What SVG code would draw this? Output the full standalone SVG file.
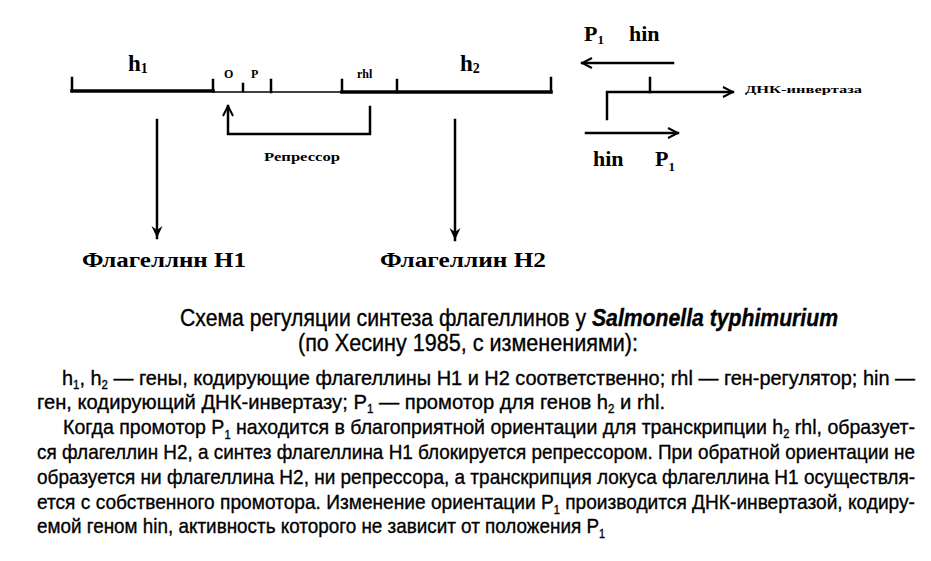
<svg xmlns="http://www.w3.org/2000/svg" width="931" height="561" viewBox="0 0 931 561">
<defs>
<style>
.ln{stroke:#000;fill:none;stroke-linecap:square}
.thk{stroke-width:3.5}
.med{stroke-width:2.5}
.thn{stroke-width:1.6}
.sf{font-family:"Liberation Serif","Times New Roman",serif;font-weight:bold;fill:#000}
.ss{font-family:"Liberation Sans Narrow","Liberation Sans",Arial,sans-serif;fill:#000;stroke:#000;stroke-width:0.35}
</style>
<marker id="open" viewBox="0 0 12 12" refX="11" refY="6" markerWidth="12" markerHeight="12" markerUnits="userSpaceOnUse" orient="auto">
<path d="M1,1 L11,6 L1,11" fill="none" stroke="#000" stroke-width="2"/>
</marker>
<marker id="fillv" viewBox="0 0 14 12" refX="13" refY="6" markerWidth="14" markerHeight="12" markerUnits="userSpaceOnUse" orient="auto">
<path d="M1,0.5 L13,6 L1,11.5 L5,6 Z" fill="#000"/>
</marker>
</defs>
<rect width="931" height="561" fill="#fff"/>

<g id="chromosome">
<path class="ln thk" d="M72,91 H213"/>
<path class="ln thn" d="M213,92 H342"/>
<path class="ln thk" d="M342,92 H551"/>
<path class="ln med" d="M72,78 V91 M213,80 V91 M243,84 V91 M271,80 V92 M342,80 V92 M397,80 V92 M551,78 V92"/>
</g>

<g id="labels-top">
<text class="sf" x="128" y="71" font-size="23">h<tspan font-size="14" dy="2">1</tspan></text>
<text class="sf" x="224" y="78" font-size="12">O</text>
<text class="sf" x="251" y="78" font-size="12">P</text>
<text class="sf" x="357" y="78" font-size="12">rhl</text>
<text class="sf" x="460" y="71" font-size="23">h<tspan font-size="14" dy="2">2</tspan></text>
</g>

<g id="inverter">
<text class="sf" x="584" y="41" font-size="22">P<tspan font-size="13" dy="3">1</tspan><tspan dy="-3" x="629">hin</tspan></text>
<text class="sf" x="745" y="93" font-size="11" textLength="117" lengthAdjust="spacingAndGlyphs">ДНК-инвертаза</text>
<text class="sf" x="593" y="166" font-size="22">hin<tspan x="655">P</tspan><tspan font-size="13" dy="5">1</tspan></text>
</g>

<g id="node-flagellin-h1">
<text class="sf" x="82" y="267" font-size="22" textLength="164" lengthAdjust="spacingAndGlyphs">Флагеллнн Н1</text>
</g>
<g id="node-flagellin-h2">
<text class="sf" x="380" y="267" font-size="22" textLength="166" lengthAdjust="spacingAndGlyphs">Флагеллин Н2</text>
</g>
<g id="repressor-label">
<text class="sf" x="264" y="161" font-size="13" textLength="76" lengthAdjust="spacingAndGlyphs">Репрессор</text>
</g>

<g id="connectors">
<path class="ln med" d="M157,120 V238" marker-end="url(#fillv)"/>
<path class="ln med" d="M455,120 V240" marker-end="url(#fillv)"/>
<path class="ln med" d="M370,107 V134 H228 V106" marker-end="url(#open)"/>
<path class="ln med" d="M673,63 H582" marker-end="url(#open)"/>
<path class="ln med" d="M650,78 V92"/>
<path class="ln med" d="M607,119 V92 H733" marker-end="url(#open)"/>
<path class="ln med" d="M586,133 H678" marker-end="url(#open)"/>
</g>

<g id="caption">
<text class="ss" x="180" y="326" font-size="23" textLength="658" lengthAdjust="spacingAndGlyphs">Схема регуляции синтеза флагеллинов у <tspan font-weight="bold" font-style="italic">Salmonella typhimurium</tspan></text>
<text class="ss" x="298" y="351" font-size="23" textLength="340" lengthAdjust="spacingAndGlyphs">(по Хесину 1985, с изменениями):</text>
</g>

<g id="body" class="ss" font-size="21">
<text x="62" y="385" textLength="853" lengthAdjust="spacingAndGlyphs">h<tspan font-size="12" dy="4">1</tspan><tspan dy="-4">, h</tspan><tspan font-size="12" dy="4">2</tspan><tspan dy="-4"> — гены, кодирующие флагеллины Н1 и Н2 соответственно; rhl — ген-регулятор; hin —</tspan></text>
<text x="37" y="409" textLength="628" lengthAdjust="spacingAndGlyphs">ген, кодирующий ДНК-инвертазу; P<tspan font-size="12" dy="4">1</tspan><tspan dy="-4"> — промотор для генов h</tspan><tspan font-size="12" dy="4">2</tspan><tspan dy="-4"> и rhl.</tspan></text>
<text x="63" y="434" textLength="852" lengthAdjust="spacingAndGlyphs">Когда промотор P<tspan font-size="12" dy="5">1</tspan><tspan dy="-5"> находится в благоприятной ориентации для транскрипции h</tspan><tspan font-size="12" dy="4">2</tspan><tspan dy="-4"> rhl, образует-</tspan></text>
<text x="37" y="459" textLength="878" lengthAdjust="spacingAndGlyphs">ся флагеллин Н2, а синтез флагеллина Н1 блокируется репрессором. При обратной ориентации не</text>
<text x="37" y="484" textLength="878" lengthAdjust="spacingAndGlyphs">образуется ни флагеллина Н2, ни репрессора, а транскрипция локуса флагеллина Н1 осуществля-</text>
<text x="37" y="509" textLength="878" lengthAdjust="spacingAndGlyphs">ется с собственного промотора. Изменение ориентации P<tspan font-size="12" dy="5">1</tspan><tspan dy="-5"> производится ДНК-инвертазой, кодиру-</tspan></text>
<text x="37" y="533" textLength="568" lengthAdjust="spacingAndGlyphs">емой геном hin, активность которого не зависит от положения P<tspan font-size="12" dy="5">1</tspan></text>
</g>
</svg>
